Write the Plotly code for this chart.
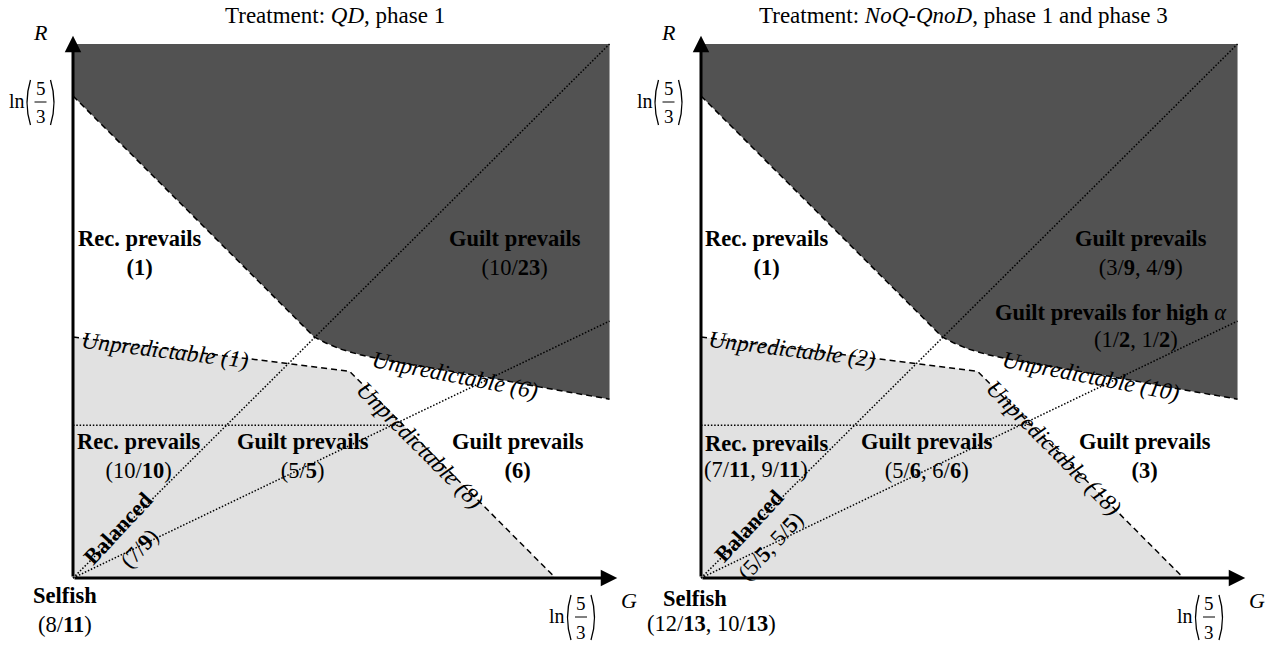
import numpy as np
import plotly.graph_objects as go

L = float(np.log(5 / 3))  # ln(5/3)

# ---------------- geometry (in units of ln(5/3)) ----------------
G_MAX, R_MAX = 1.112, 1.108
guilt_G = [0.0, 0.500, 0.523, 0.554, 0.595, 0.658, 0.741, 0.844, 0.969, 1.112]
guilt_R = [1.000, 0.500, 0.488, 0.475, 0.463, 0.450, 0.436, 0.419, 0.396, 0.371]
unpred_G = [0.0, 0.573, 1.0]
unpred_R = [0.500, 0.429, 0.0]
diag_G = [0.0, G_MAX]
diag_R = [0.0, R_MAX]
ray_G = [0.0, G_MAX]
ray_R = [0.0, 0.533]
horiz_G = [0.0, 0.675]
horiz_R = [0.317, 0.317]

titles = ["Treatment: <i>QD</i>, phase 1",
          "Treatment: <i>NoQ-QnoD</i>, phase 1 and phase 3"]

# region labels: (text, G, R, angle, size)
labels_left = [
    ("<b>Rec. prevails</b><br><b>(1)</b>", 0.139, 0.674, 0, 22.5),
    ("<b>Guilt prevails</b><br>(10/<b>23</b>)", 0.916, 0.674, 0, 22.5),
    ("<b>Rec. prevails</b><br>(10/<b>10</b>)", 0.137, 0.253, 0, 22.5),
    ("<b>Guilt prevails</b><br>(5/<b>5</b>)", 0.477, 0.253, 0, 22.5),
    ("<b>Guilt prevails</b><br><b>(6)</b>", 0.922, 0.253, 0, 22.5),
    ("<b>Balanced</b><br>(7/<b>9</b>)", 0.116, 0.083, -47, 22.5),
    ("<i>Unpredictable (1)</i>", 0.190, 0.473, 7, 23.5),
    ("<i>Unpredictable (6)</i>", 0.792, 0.421, 11, 23.5),
    ("<i>Unpredictable (8)</i>", 0.719, 0.276, 45, 23.5),
]
labels_right = [
    ("<b>Rec. prevails</b><br><b>(1)</b>", 0.137, 0.674, 0, 22.5),
    ("<b>Guilt prevails</b><br>(3/<b>9</b>, 4/<b>9</b>)", 0.912, 0.674, 0, 22.5),
    ("<b>Guilt prevails for high</b> <i>α</i>", 0.850, 0.550, 0, 22.5),
    ("(1/<b>2</b>, 1/<b>2</b>)", 0.902, 0.494, 0, 22.5),
    ("<b>Rec. prevails</b>", 0.137, 0.280, 0, 22.5),
    ("(7/<b>11</b>, 9/<b>11</b>)", 0.114, 0.226, 0, 22.5),
    ("<b>Guilt prevails</b><br>(5/<b>6</b>, 6/<b>6</b>)", 0.468, 0.253, 0, 22.5),
    ("<b>Guilt prevails</b><br><b>(3)</b>", 0.920, 0.253, 0, 22.5),
    ("<b>Balanced</b><br>(5/<b>5</b>, 5/<b>5</b>)", 0.121, 0.088, -47, 22.5),
    ("<i>Unpredictable (2)</i>", 0.189, 0.475, 7, 23.5),
    ("<i>Unpredictable (10)</i>", 0.808, 0.419, 11, 23.5),
    ("<i>Unpredictable (18)</i>", 0.732, 0.270, 45, 23.5),
]
# labels below the origin (outside the axes): (text, dx from origin px, y px)
selfish_left = [("<b>Selfish</b><br>(8/<b>11</b>)", -8, 610)]
selfish_right = [("<b>Selfish</b>", -6, 598), ("(12/<b>13</b>, 10/<b>13</b>)", 10, 623)]

DARK = "rgb(82,82,82)"
LIGHT = "rgb(225,225,225)"
FONT = "Liberation Serif"

W, H = 1280, 646
SX, SY = 482.5, 482.0          # pixels per ln(5/3)
XR = [-0.035, 1.16]
YR = [-0.035, 1.15]
origins = [(73, 578), (701, 578)]

fig = go.Figure()
layout_axes = {}
annotations = []
shapes = []


def px2paper(px, py):
    return px / W, 1 - py / H


def paper_text(txt, px, py, size, **kw):
    x, y = px2paper(px, py)
    d = dict(x=x, y=y, xref="paper", yref="paper", text=txt, showarrow=False,
             xanchor="center", yanchor="middle",
             font=dict(family=FONT, size=size, color="black"))
    d.update(kw)
    return d


for i, (ox, oy) in enumerate(origins):
    xa = "x" if i == 0 else "x2"
    ya = "y" if i == 0 else "y2"
    dx = [(ox + XR[0] * SX) / W, (ox + XR[1] * SX) / W]
    dy = [1 - (oy - YR[0] * SY) / H, 1 - (oy - YR[1] * SY) / H]
    layout_axes["xaxis" if i == 0 else "xaxis2"] = dict(
        domain=dx, range=[XR[0] * L, XR[1] * L], visible=False, anchor=ya)
    layout_axes["yaxis" if i == 0 else "yaxis2"] = dict(
        domain=dy, range=[YR[0] * L, YR[1] * L], visible=False, anchor=xa)

    s = lambda arr: [v * L for v in arr]

    # dark region (guilt prevails for all alpha)
    dark_G = [0.0, 0.0, G_MAX, G_MAX] + guilt_G[::-1][1:]
    dark_R = [guilt_R[0], R_MAX, R_MAX, guilt_R[-1]] + guilt_R[::-1][1:]
    fig.add_trace(go.Scatter(x=s(dark_G), y=s(dark_R), fill="toself",
                             fillcolor=DARK, line=dict(width=0), mode="lines",
                             xaxis=xa, yaxis=ya, hoverinfo="skip"))
    # light region
    light_G = unpred_G + [0.0]
    light_R = unpred_R + [0.0]
    fig.add_trace(go.Scatter(x=s(light_G), y=s(light_R), fill="toself",
                             fillcolor=LIGHT, line=dict(width=0), mode="lines",
                             xaxis=xa, yaxis=ya, hoverinfo="skip"))
    # dotted lines
    for gx, ry in [(diag_G, diag_R), (ray_G, ray_R), (horiz_G, horiz_R)]:
        fig.add_trace(go.Scatter(x=s(gx), y=s(ry), mode="lines",
                                 line=dict(color="black", width=1.5, dash="1.5px,1.8px"),
                                 xaxis=xa, yaxis=ya, hoverinfo="skip"))
    # dashed boundaries
    for gx, ry in [(guilt_G, guilt_R), (unpred_G, unpred_R)]:
        fig.add_trace(go.Scatter(x=s(gx), y=s(ry), mode="lines",
                                 line=dict(color="black", width=1.5, dash="6px,4px"),
                                 xaxis=xa, yaxis=ya, hoverinfo="skip"))

    # axes with arrows
    for (tx, ty) in [(0.0, 1.125), (1.128, 0.0)]:
        annotations.append(dict(x=tx * L, y=ty * L, ax=0, ay=0, xref=xa, yref=ya,
                                axref=xa, ayref=ya, text="", showarrow=True,
                                arrowhead=2, arrowsize=1.1, arrowwidth=3,
                                arrowcolor="black", standoff=0))

    # region labels
    for (txt, g, r, ang, sz) in (labels_left if i == 0 else labels_right):
        annotations.append(dict(x=g * L, y=r * L, xref=xa, yref=ya, text=txt,
                                showarrow=False, textangle=ang,
                                xanchor="center", yanchor="middle",
                                font=dict(family=FONT, size=sz, color="black")))
    for (txt, dpx, py) in (selfish_left if i == 0 else selfish_right):
        annotations.append(paper_text(txt, ox + dpx, py, 22.5))

    # title
    annotations.append(paper_text(titles[i], ox + 262, 16, 23))
    # axis letters
    annotations.append(paper_text("<i>R</i>", ox - 33, 32, 22))
    annotations.append(paper_text("<i>G</i>", ox + 556, 600, 22))

    # ln(5/3) tick labels
    for (fx, cy) in [(ox - 32.5, 101), (ox + 508, 616)]:
        annotations.append(paper_text("ln", fx - 24, cy, 20))
        annotations.append(paper_text("5", fx, cy - 13, 19))
        annotations.append(paper_text("3", fx, cy + 16, 19))
        b0 = px2paper(fx - 6, cy + 1)
        b1 = px2paper(fx + 6, cy + 1)
        shapes.append(dict(type="line", xref="paper", yref="paper", x0=b0[0], y0=b0[1],
                           x1=b1[0], y1=b1[1], line=dict(color="black", width=1)))
        top, bot = cy - 21, cy + 24
        for side in (-1, 1):
            xe = fx + side * 10
            xm = fx + side * 17
            p0 = px2paper(xe, top)
            pm = px2paper(xm, (top + bot) / 2)
            p1 = px2paper(xe, bot)
            shapes.append(dict(type="path", xref="paper", yref="paper",
                               path=f"M {p0[0]},{p0[1]} Q {pm[0]},{pm[1]} {p1[0]},{p1[1]}",
                               line=dict(color="black", width=1.3)))

fig.update_layout(width=W, height=H, margin=dict(l=0, r=0, t=0, b=0),
                  paper_bgcolor="white", plot_bgcolor="white", showlegend=False,
                  annotations=annotations, shapes=shapes, **layout_axes)

fig.write_html("out.html")
